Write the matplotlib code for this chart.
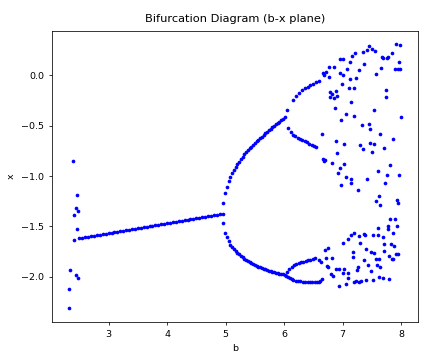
import matplotlib
matplotlib.use('Agg')
import matplotlib.pyplot as plt

# transient points at the very start of the sweep
start_b = [2.396, 2.454, 2.437, 2.413, 2.476, 2.459, 2.408, 2.345, 2.442, 2.481, 2.328, 2.323]
start_x = [-0.851, -1.188, -1.320, -1.386, -1.347, -1.528, -1.634, -1.927, -1.983, -2.013, -2.116, -2.310]

# period-1 branch
p1_b = [2.50, 2.55, 2.60, 2.65, 2.70, 2.75, 2.80, 2.85, 2.90, 2.95,
        3.00, 3.05, 3.10, 3.15, 3.20, 3.25, 3.30, 3.35, 3.40, 3.45,
        3.50, 3.55, 3.60, 3.65, 3.70, 3.75, 3.80, 3.85, 3.90, 3.95,
        4.00, 4.05, 4.10, 4.15, 4.20, 4.25, 4.30, 4.35, 4.40, 4.45,
        4.50, 4.55, 4.60, 4.65, 4.70, 4.75, 4.80, 4.85, 4.90, 4.95]
p1_x = [-1.617, -1.612, -1.607, -1.602, -1.597, -1.592, -1.587, -1.582, -1.577, -1.572,
        -1.567, -1.562, -1.557, -1.552, -1.547, -1.542, -1.537, -1.532, -1.527, -1.522,
        -1.517, -1.512, -1.507, -1.502, -1.497, -1.492, -1.487, -1.482, -1.477, -1.472,
        -1.467, -1.462, -1.457, -1.452, -1.447, -1.442, -1.437, -1.432, -1.427, -1.422,
        -1.417, -1.412, -1.407, -1.402, -1.397, -1.392, -1.387, -1.382, -1.377, -1.372]

# period-2 branches
p2_b = [4.96, 4.99, 5.02, 5.05, 5.08, 5.11, 5.14, 5.17, 5.20, 5.23, 5.26, 5.29,
        5.32, 5.35, 5.38, 5.41, 5.44, 5.47, 5.50, 5.53, 5.56, 5.59, 5.62, 5.65,
        5.68, 5.71, 5.74, 5.77, 5.80, 5.83, 5.86, 5.89, 5.92, 5.95, 5.98, 6.01]
p2_upper = [-1.270, -1.170, -1.105, -1.054, -1.009, -0.970, -0.939, -0.910, -0.882, -0.857, -0.833, -0.810,
            -0.787, -0.766, -0.745, -0.726, -0.708, -0.692, -0.675, -0.658, -0.641, -0.626, -0.609, -0.593,
            -0.577, -0.562, -0.547, -0.532, -0.517, -0.503, -0.490, -0.478, -0.464, -0.448, -0.432, -0.417]
p2_lower = [-1.470, -1.560, -1.608, -1.648, -1.680, -1.706, -1.727, -1.745, -1.765, -1.777, -1.793, -1.807,
            -1.820, -1.831, -1.842, -1.855, -1.864, -1.875, -1.882, -1.892, -1.900, -1.906, -1.915, -1.921,
            -1.925, -1.932, -1.939, -1.943, -1.948, -1.952, -1.957, -1.962, -1.966, -1.970, -1.974, -1.978]

# period-4 branches
uu_b = [6.05, 6.15, 6.20, 6.25, 6.30, 6.35, 6.40, 6.45, 6.50, 6.55, 6.59]
uu_x = [-0.347, -0.248, -0.207, -0.175, -0.150, -0.132, -0.115, -0.100, -0.085, -0.068, -0.058]
ul_b = [6.07, 6.11, 6.15, 6.19, 6.23, 6.27, 6.31, 6.35, 6.39, 6.43, 6.47, 6.51, 6.55]
ul_x = [-0.520, -0.560, -0.590, -0.607, -0.620, -0.629, -0.644, -0.657, -0.668, -0.680, -0.692, -0.703, -0.716]
lu_b = [6.05, 6.09, 6.13, 6.17, 6.21, 6.25, 6.29, 6.33, 6.37, 6.41, 6.45, 6.49, 6.53, 6.59, 6.63]
lu_x = [-1.947, -1.920, -1.900, -1.885, -1.872, -1.862, -1.855, -1.848, -1.842, -1.835, -1.828, -1.818, -1.812, -1.830, -1.848]
ll_b = [6.04, 6.07, 6.10, 6.13, 6.16, 6.20, 6.24, 6.28, 6.32, 6.36, 6.40, 6.44, 6.48, 6.52, 6.56, 6.59, 6.62, 6.65]
ll_x = [-1.990, -2.000, -2.013, -2.022, -2.030, -2.036, -2.040, -2.044, -2.046, -2.048, -2.050, -2.050, -2.050, -2.050, -2.050, -2.045, -2.036, -2.023]

# chaotic region
chaos_b = [6.652, 6.663, 6.680, 6.663, 6.680, 6.700,
           6.720, 6.759, 6.771, 6.850, 6.958, 7.004, 6.953, 7.015, 7.072, 7.118, 7.157, 7.220,
           7.283, 7.356, 7.374, 7.419, 7.448, 7.504, 7.556, 7.578, 7.658, 7.675, 7.692, 7.760,
           7.783, 7.846, 7.914, 7.988, 7.971, 7.897, 7.942, 7.988, 7.123, 7.226, 7.106, 7.192,
           6.987, 6.793, 6.816, 6.890, 6.782, 6.845, 6.896, 7.743, 7.743, 7.135, 6.867, 7.539,
           7.061, 7.192, 6.975, 7.994, 7.328, 7.448, 7.476, 7.647, 7.868, 6.879, 7.032, 7.294,
           7.356, 7.465, 7.533, 7.715, 6.907, 7.504, 6.816, 7.027, 6.947, 6.918, 7.601, 7.806,
           7.755, 7.971,
           7.055, 7.146, 7.146, 6.975, 7.271, 7.419, 7.732, 7.618, 7.573, 7.635, 7.925, 7.942,
           7.817, 7.903, 7.783, 7.925, 7.772, 7.612, 7.857, 7.203, 7.146, 7.288, 7.362, 7.391,
           7.527, 7.601, 7.698, 7.004, 7.089, 7.305, 7.829, 7.874, 7.715, 6.691, 6.748, 7.174,
           7.402, 7.487, 7.544, 7.703, 7.914, 7.954, 7.800, 7.868, 7.846, 6.720, 6.816, 7.174,
           7.374, 7.573, 7.630, 6.737, 6.748, 6.890, 6.930, 7.032, 7.260, 7.248, 7.430, 7.590,
           7.647, 7.487, 6.805, 6.833, 7.004, 7.089, 7.089, 7.203, 7.231, 7.317, 7.402, 7.288,
           7.516, 7.630, 7.686, 7.800, 6.941, 7.066]
chaos_x = [-0.584, 0.017, 0.000, -0.835, -0.848, -0.842,
           0.026, 0.076, -0.020, 0.076, 0.158, 0.155, 0.016, 0.000, 0.056, 0.132, 0.191, 0.221,
           0.053, 0.231, 0.106, 0.247, 0.290, 0.254, 0.234, 0.013, 0.069, 0.175, 0.165, 0.165,
           0.175, 0.215, 0.307, 0.297, 0.132, 0.056, 0.056, 0.059, -0.040, -0.033, -0.132, -0.125,
           -0.092, -0.165, -0.188, -0.158, -0.221, -0.231, -0.205, -0.149, -0.215, -0.271, -0.330, -0.350,
           -0.383, -0.406, -0.446, -0.419, -0.492, -0.488, -0.531, -0.584, -0.637, -0.650, -0.680, -0.690,
           -0.733, -0.670, -0.680, -0.719, -0.776, -0.759, -0.868, -0.881, -0.924, -0.967, -0.950, -0.891,
           -0.990, -0.990,
           -1.013, -1.030, -1.066, -1.089, -1.139, -1.030, -1.066, -1.198, -1.248, -1.284, -1.241, -1.271,
           -1.426, -1.426, -1.495, -1.495, -1.528, -1.518, -1.564, -1.568, -1.584, -1.594, -1.578, -1.587,
           -1.581, -1.581, -1.601, -1.667, -1.627, -1.667, -1.673, -1.693, -1.673, -1.733, -1.709, -1.749,
           -1.723, -1.756, -1.766, -1.746, -1.775, -1.775, -1.792, -1.825, -1.825, -1.808, -1.808, -1.805,
           -1.832, -1.818, -1.818, -1.891, -1.897, -1.924, -1.917, -1.917, -1.904, -1.931, -1.881, -1.881,
           -1.904, -1.937, -1.970, -1.990, -1.957, -1.957, -2.013, -2.046, -2.039, -2.039, -2.033, -2.053,
           -2.030, -1.997, -2.013, -2.020, -2.086, -2.069]

plt.rcParams['font.size'] = 6.8
plt.rcParams['axes.linewidth'] = 0.55
plt.rcParams['xtick.major.width'] = 0.55
plt.rcParams['ytick.major.width'] = 0.55
plt.rcParams['xtick.major.size'] = 2.4
plt.rcParams['ytick.major.size'] = 2.4

fig = plt.figure(figsize=(4.37, 3.56), dpi=100)
ax = fig.add_axes([0.1197, 0.0963, 0.837, 0.8175])

groups = [(start_b, start_x), (p1_b, p1_x), (p2_b, p2_upper), (p2_b, p2_lower),
          (uu_b, uu_x), (ul_b, ul_x), (lu_b, lu_x), (ll_b, ll_x), (chaos_b, chaos_x)]
for gb, gx in groups:
    ax.scatter(gb, gx, s=7, color='blue', linewidths=0)

ax.set_xlim(2.038, 8.29)
ax.set_ylim(-2.443, 0.439)
ax.set_title('Bifurcation Diagram (b-x plane)')
ax.set_xlabel('b')
ax.set_ylabel('x')

fig.savefig('out.png', dpi=100)
